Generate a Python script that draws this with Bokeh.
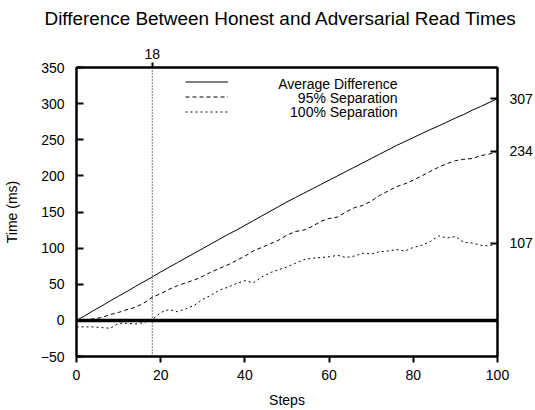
from bokeh.plotting import figure
from bokeh.models import LinearAxis, FixedTicker, Span, Range1d, Legend, LegendItem, Label, Title
from bokeh.embed import file_html
from bokeh.resources import INLINE

steps = list(range(0, 101, 2))
avg_diff = [0, 6.5, 13.5, 20, 27, 33.5, 40, 47, 53.5, 60,
            67, 73.5, 80, 86.5, 93, 99.5, 106, 112.5, 119, 125,
            131.5, 138, 144.5, 151, 157.5, 164, 170, 176, 182, 188,
            194, 200, 206, 212, 218, 224, 230, 236, 242, 247.5,
            253, 258.5, 264, 269, 274.5, 280, 285, 291, 296, 301.5, 307]
sep95 = [0, 1, 2, 4, 8, 11, 15, 18, 24, 32,
         37, 43, 48, 52, 56, 61, 67, 72, 77, 83,
         89, 96, 101, 106, 111, 118, 123, 125, 130, 137,
         141, 143, 150, 156, 159, 165, 173, 179, 185, 189,
         194, 200, 206, 212, 217, 221, 223, 224, 228, 230, 234]
sep100 = [-9, -9, -9, -10, -11, -4, -4, -5, -3, 1,
          11, 15, 12, 16, 21, 29, 35, 42, 46, 51,
          55, 52, 60, 66, 70, 74, 79, 84, 86, 87,
          88, 90, 87, 89, 93, 92, 95, 96, 98, 96,
          101, 104, 109, 117, 114, 116, 108, 107, 104, 103, 107]
series_names = ["Average Difference", "95% Separation", "100% Separation"]
title_text = "Difference Between Honest and Adversarial Read Times"
x_ticks = [0, 20, 40, 60, 80, 100]
y_ticks = [-50, 0, 50, 100, 150, 200, 250, 300, 350]
marker_step = 18

FONT = "Liberation Sans"

p = figure(width=535, height=410, output_backend="svg", toolbar_location=None,
           x_range=Range1d(0, 100), y_range=Range1d(-50, 350),
           min_border_left=75, min_border_right=38, min_border_top=67,
           min_border_bottom=54)

p.xgrid.visible = False
p.ygrid.visible = False
p.background_fill_color = "white"
p.border_fill_color = "white"
p.outline_line_color = "black"
p.outline_line_width = 2

def style_axis(ax, tin, tout, standoff):
    ax.axis_line_width = 2
    ax.axis_line_color = "black"
    ax.major_tick_line_width = 2
    ax.major_tick_line_color = "black"
    ax.minor_tick_line_color = None
    ax.major_tick_in = tin
    ax.major_tick_out = tout
    ax.major_label_standoff = standoff
    ax.major_label_text_font = FONT
    ax.major_label_text_font_size = "14px"
    ax.major_label_text_color = "black"
    ax.axis_label_text_font = FONT
    ax.axis_label_text_font_size = "14px"
    ax.axis_label_text_font_style = "normal"
    ax.axis_label_text_color = "black"

xa = p.below[0]
xa.ticker = FixedTicker(ticks=x_ticks)
xa.axis_label = "Steps"
xa.axis_label_standoff = 9
style_axis(xa, 0, 6, 7)

ya = p.left[0]
ya.ticker = FixedTicker(ticks=y_ticks)
ya.axis_label = "Time (ms)"
ya.axis_label_standoff = 18
style_axis(ya, 7, 0, 12)

r1 = p.line(steps, avg_diff, line_color="black", line_width=1)
r2 = p.line(steps, sep95, line_color="black", line_width=1, line_dash="4 3")
r3 = p.line(steps, sep100, line_color="black", line_width=1, line_dash="2 3")

right = LinearAxis(ticker=FixedTicker(ticks=[avg_diff[-1], sep95[-1], sep100[-1]]))
style_axis(right, 7, 0, 12)
p.add_layout(right, "right")

top = LinearAxis(ticker=FixedTicker(ticks=[marker_step]))
style_axis(top, 0, 5, 4)
p.add_layout(top, "above")

# spacer between the top axis and the title, then the title itself
p.add_layout(Title(text=" ", text_font_size="13.5px", standoff=0), "above")
p.add_layout(Title(text=title_text, text_font=FONT, text_font_size="18.9px",
                   text_font_style="normal", text_color="black", align="left",
                   offset=-32, standoff=0, vertical_align="bottom"), "above")

p.add_layout(Span(location=0, dimension="width", line_color="black", line_width=3.5))
p.add_layout(Span(location=marker_step, dimension="height", line_color="black",
                  line_width=1, line_dash="1 2"))

legend = Legend(items=[LegendItem(label=" ", renderers=[r1]),
                       LegendItem(label=" ", renderers=[r2]),
                       LegendItem(label=" ", renderers=[r3])],
                location=(109, 237), padding=0, spacing=0, margin=0,
                glyph_width=43, glyph_height=15, label_height=15, label_width=1,
                label_standoff=1, label_text_font_size="8px",
                background_fill_alpha=0, border_line_color=None)
p.add_layout(legend)

# legend texts, right-aligned to the right of the samples (screen px from frame bottom-left)
for name, yb in zip(series_names, [273, 259, 245]):
    p.add_layout(Label(x=321, y=yb, x_units="screen", y_units="screen", text=name,
                       text_font=FONT, text_font_size="14px", text_color="black",
                       text_align="right", text_baseline="alphabetic"))

open("out.html", "w").write(file_html(p, INLINE))
